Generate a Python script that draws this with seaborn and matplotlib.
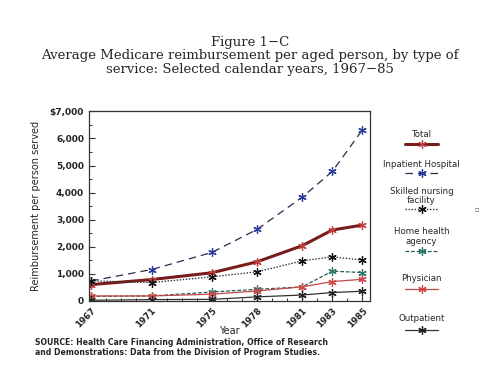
import matplotlib
matplotlib.use("Agg")
import matplotlib.pyplot as plt
from matplotlib.lines import Line2D
from matplotlib.ticker import FuncFormatter, MultipleLocator
import numpy as np
import pandas as pd
import seaborn as sns

years = [1967, 1971, 1975, 1978, 1981, 1983, 1985]
total = [605, 790, 1040, 1445, 2040, 2620, 2800]
inpatient = [740, 1160, 1790, 2640, 3830, 4780, 6320]
snf = [740, 680, 890, 1075, 1480, 1630, 1510]
home_health = [170, 185, 330, 430, 520, 1100, 1050]
physician = [185, 185, 250, 370, 520, 715, 800]
outpatient = [25, 50, 60, 150, 220, 310, 360]

series = [
    ("Total", total, "#7a1c1c", "-", 2.2, "#c04040"),
    ("Inpatient Hospital", inpatient, "#2a2a50", (0, (6, 4)), 0.9, "#2a3a9a"),
    ("Skilled nursing\nfacility", snf, "#333333", (0, (1, 1.2)), 1.0, "#111111"),
    ("Home health\nagency", home_health, "#2a5a50", (0, (3, 1.5)), 0.9, "#2a7a6a"),
    ("Physician", physician, "#c04848", "-", 0.9, "#d04848"),
    ("Outpatient", outpatient, "#333333", "-", 0.9, "#222222"),
]

star = (6, 2, 0)


def main():
    sns.set_style("white")
    plt.rcParams['font.family'] = ['DejaVu Sans']
    fig = plt.figure(figsize=(5, 3.8), dpi=100)
    ax = fig.add_axes([0.178, 0.208, 0.562, 0.499])

    for name, values, color, ls, lw, mcolor in series:
        df = pd.DataFrame({"Year": years, "Value": values})
        sns.lineplot(x="Year", y="Value", data=df, ax=ax, color=color, linestyle=ls,
                     linewidth=lw, marker=star, markersize=6, markeredgecolor=mcolor,
                     markeredgewidth=0.9)

    ax.set_xlim(1966.85, 1985.5)
    ax.set_ylim(0, 7000)
    ax.set_xticks(years)
    ax.set_xticklabels([str(y) for y in years], rotation=45, ha="right",
                       rotation_mode="anchor", fontsize=6.2, fontweight="bold")
    ax.xaxis.set_minor_locator(MultipleLocator(1))
    ax.yaxis.set_major_locator(MultipleLocator(1000))
    ax.yaxis.set_minor_locator(MultipleLocator(500))
    ax.yaxis.set_major_formatter(FuncFormatter(
        lambda v, p: "$7,000" if v == 7000 else ("0" if v == 0 else f"{int(v):,}")))
    for lab in ax.get_yticklabels():
        lab.set_fontsize(6.5)
        lab.set_fontweight("bold")
    ax.tick_params(which="both", direction="in", left=True, bottom=True, color="#333333")
    ax.tick_params(which="major", length=4, width=0.8)
    ax.tick_params(which="minor", length=2.5, width=0.7)
    for s in ax.spines.values():
        s.set_color("#333333")
        s.set_linewidth(0.9)
    ax.set_xlabel("Year", fontsize=7)
    ax.xaxis.set_label_coords(0.5, -0.13)
    ax.set_ylabel("Reimbursement per person served", fontsize=7, labelpad=6)

    fig.text(0.5, 0.888, "Figure 1\u2212C", ha="center", va="center",
             family="DejaVu Serif", fontsize=9.5)
    fig.text(0.5, 0.853, "Average Medicare reimbursement per aged person, by type of",
             ha="center", va="center", family="DejaVu Serif", fontsize=9.5)
    fig.text(0.5, 0.816, "service: Selected calendar years, 1967\u221285",
             ha="center", va="center", family="DejaVu Serif", fontsize=9.5)

    fig.text(0.07, 0.085, "SOURCE: Health Care Financing Administration, Office of Research\n"
             "and Demonstrations: Data from the Division of Program Studies.",
             ha="left", va="center", fontsize=5.6, fontweight="bold", linespacing=1.2)

    # legend on the right, label above a line sample
    label_y = [0.645, 0.568, 0.484, 0.378, 0.266, 0.163]
    sample_y = [0.621, 0.545, 0.450, 0.339, 0.239, 0.132]
    for (name, values, color, ls, lw, mcolor), ly, sy in zip(series, label_y, sample_y):
        fig.text(0.843, ly, name, ha="center", va="center", fontsize=6.2,
                 linespacing=1.05)
        fig.add_artist(Line2D([0.81, 0.876], [sy, sy], transform=fig.transFigure,
                              color=color, linestyle=ls, linewidth=lw))
        fig.add_artist(Line2D([0.843], [sy], transform=fig.transFigure, color=color,
                              marker=star, markersize=6, markeredgecolor=mcolor,
                              markeredgewidth=0.9, linestyle="none"))

    fig.text(0.956, 0.45, "11", rotation=90, ha="center", va="center", fontsize=4,
             family="DejaVu Serif", color="#555555")

    plt.savefig("out.png", dpi=100)
    plt.close()


if __name__ == "__main__":
    main()
